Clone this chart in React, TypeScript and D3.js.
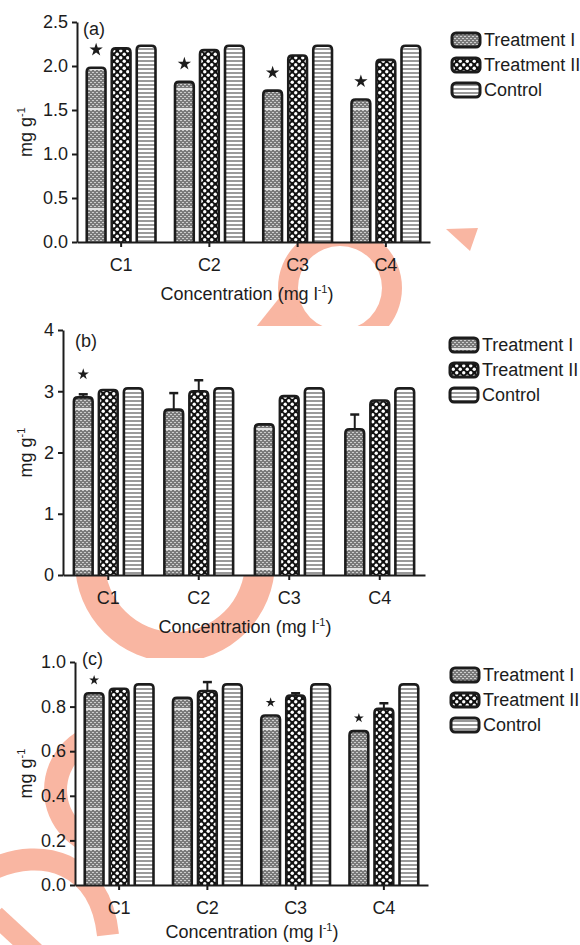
import React, { useEffect, useRef } from "react";
import * as d3 from "d3";

const categories = ["C1", "C2", "C3", "C4"];
const series = ["Treatment I", "Treatment II", "Control"];

// panel (a)
const aTreat1 = [1.98, 1.82, 1.72, 1.62];
const aTreat2 = [2.2, 2.18, 2.12, 2.07];
const aControl = [2.23, 2.23, 2.23, 2.23];
const aErr1 = [0, 0, 0, 0];
const aErr2 = [0, 0, 0, 0];
const aErrC = [0, 0, 0, 0];
const aStars = [true, true, true, true];
const aTicks = [0, 0.5, 1, 1.5, 2, 2.5];

// panel (b)
const bTreat1 = [2.9, 2.7, 2.46, 2.38];
const bTreat2 = [3.02, 3.0, 2.92, 2.85];
const bControl = [3.05, 3.05, 3.05, 3.05];
const bErr1 = [0.05, 0.27, 0, 0.24];
const bErr2 = [0, 0.18, 0, 0];
const bErrC = [0, 0, 0, 0];
const bStars = [true, false, false, false];
const bTicks = [0, 1, 2, 3, 4];

// panel (c)
const cTreat1 = [0.86, 0.84, 0.76, 0.69];
const cTreat2 = [0.88, 0.87, 0.85, 0.79];
const cControl = [0.9, 0.9, 0.9, 0.9];
const cErr1 = [0, 0, 0, 0];
const cErr2 = [0, 0.04, 0.01, 0.025];
const cErrC = [0, 0, 0, 0];
const cStars = [true, false, true, true];
const cTicks = [0, 0.2, 0.4, 0.6, 0.8, 1.0];

const FONT = "'Liberation Sans', Arial, sans-serif";
const INK = "#1c1c1c";
const WM = "#f9b6a2";

const panels = [
  {
    label: "(a)", values: [aTreat1, aTreat2, aControl], errors: [aErr1, aErr2, aErrC],
    stars: aStars, ticks: aTicks, fmt: ".1f", max: 2.5,
    left: 77, right: 430, top: 22, bottom: 242,
    legX: 452, legY: 40, starSize: 55, starGap: 18, labelX: 83, labelY: 35, titleX: 247, titleGap: 58,
  },
  {
    label: "(b)", values: [bTreat1, bTreat2, bControl], errors: [bErr1, bErr2, bErrC],
    stars: bStars, ticks: bTicks, fmt: "d", max: 4,
    left: 63, right: 425, top: 330, bottom: 575,
    legX: 450, legY: 345, starSize: 40, starGap: 20, labelX: 75, labelY: 347, titleX: 245, titleGap: 58,
  },
  {
    label: "(c)", values: [cTreat1, cTreat2, cControl], errors: [cErr1, cErr2, cErrC],
    stars: cStars, ticks: cTicks, fmt: ".1f", max: 1.0,
    left: 75, right: 428, top: 662, bottom: 885,
    legX: 451, legY: 675, starSize: 30, starGap: 13, labelX: 82, labelY: 665, titleX: 252, titleGap: 53,
  },
];

// bar outline with rounded top corners
const roundTop = (x, y, w, h, r) => {
  const rr = Math.min(r, h, w / 2);
  return `M${x},${y + h}V${y + rr}Q${x},${y} ${x + rr},${y}H${x + w - rr}Q${x + w},${y} ${x + w},${y + rr}V${y + h}`;
};

const App = () => {
  const svgRef = useRef<SVGSVGElement | null>(null);

  useEffect(() => {
    const svg = d3.select(svgRef.current);
    svg.selectAll("*").remove();

    // fill patterns
    const defs = svg.append("defs");
    const p0 = defs.append("pattern").attr("id", "pat0").attr("patternUnits", "userSpaceOnUse")
      .attr("width", 4).attr("height", 20);
    p0.append("rect").attr("width", 4).attr("height", 20).attr("fill", "#7a7a7a");
    for (let yy = 0; yy < 20; yy += 2) {
      p0.append("rect").attr("x", (yy / 2) % 2 === 0 ? 0 : 2).attr("y", yy)
        .attr("width", 2).attr("height", 1).attr("fill", "#cdcdcd");
    }
    p0.append("rect").attr("y", 8).attr("width", 4).attr("height", 2).attr("fill", "#e2e2e2");

    const p1 = defs.append("pattern").attr("id", "pat1").attr("patternUnits", "userSpaceOnUse")
      .attr("width", 7).attr("height", 7);
    p1.append("rect").attr("width", 7).attr("height", 7).attr("fill", "#111");
    p1.append("circle").attr("cx", 1.75).attr("cy", 1.75).attr("r", 1.7).attr("fill", "#fff");
    p1.append("circle").attr("cx", 5.25).attr("cy", 5.25).attr("r", 1.7).attr("fill", "#fff");

    const p2 = defs.append("pattern").attr("id", "pat2").attr("patternUnits", "userSpaceOnUse")
      .attr("width", 4).attr("height", 4);
    p2.append("rect").attr("width", 4).attr("height", 4).attr("fill", "#fff");
    p2.append("rect").attr("width", 4).attr("height", 2).attr("fill", "#9a9a9a");

    // watermark behind everything
    const wm = svg.append("g").attr("fill", WM);
    const ring = d3.arc();
    wm.append("path").attr("transform", "translate(340,288)")
      .attr("d", ring({ innerRadius: 42, outerRadius: 62, startAngle: 0, endAngle: 2 * Math.PI }));
    wm.append("path").attr("d", "M284,292L256,327L302,327Z");
    wm.append("path").attr("d", "M446,229L478,228L470,251Z");
    wm.append("path").attr("transform", "translate(175,562)")
      .attr("d", ring({ innerRadius: 70, outerRadius: 100, startAngle: 0, endAngle: 2 * Math.PI }));
    wm.append("path").attr("transform", "translate(112,790)")
      .attr("d", ring({ innerRadius: 45, outerRadius: 68, startAngle: 0, endAngle: 2 * Math.PI }));
    wm.append("path").attr("d", "M-5,868C40,848 100,860 108,935")
      .attr("fill", "none").attr("stroke", WM).attr("stroke-width", 22);
    wm.append("path").attr("d", "M-5,915L35,952")
      .attr("fill", "none").attr("stroke", WM).attr("stroke-width", 20);

    panels.forEach((p) => {
      const g = svg.append("g");
      const x = d3.scaleBand().domain(categories).range([p.left, p.right]);
      const xs = d3.scaleBand().domain(series).range([-37.5, 37.5])
        .paddingInner(0.25).paddingOuter(0.125);
      const y = d3.scaleLinear().domain([0, p.max]).range([p.bottom, p.top]);

      // opaque plot area hides the watermark
      g.append("rect").attr("x", p.left).attr("y", p.top - 4)
        .attr("width", p.right - p.left).attr("height", p.bottom - p.top + 4).attr("fill", "#fff");

      series.forEach((s, si) => {
        categories.forEach((c, ci) => {
          const v = p.values[si][ci];
          const e = p.errors[si][ci];
          const bx = x(c) + x.bandwidth() / 2 + xs(s);
          const bw = xs.bandwidth();
          const cx = bx + bw / 2;
          if (e > 0) {
            g.append("line").attr("x1", cx).attr("x2", cx).attr("y1", y(v)).attr("y2", y(v + e))
              .attr("stroke", INK).attr("stroke-width", 2);
            g.append("line").attr("x1", cx - 4.5).attr("x2", cx + 4.5).attr("y1", y(v + e)).attr("y2", y(v + e))
              .attr("stroke", INK).attr("stroke-width", 2.5);
          }
          g.append("path").attr("d", roundTop(bx, y(v), bw, y(0) - y(v), 4))
            .attr("fill", `url(#pat${si})`).attr("stroke", INK).attr("stroke-width", 2.6);
          if (si === 0 && p.stars[ci]) {
            g.append("path").attr("d", d3.symbol(d3.symbolStar, p.starSize)())
              .attr("transform", `translate(${cx},${y(v + e) - p.starGap})`).attr("fill", INK);
          }
        });
      });

      // axes
      const ay = g.append("g").attr("transform", `translate(${p.left},0)`)
        .call(d3.axisLeft(y).tickValues(p.ticks).tickFormat(d3.format(p.fmt)).tickSize(5).tickSizeOuter(0).tickPadding(4));
      const ax = g.append("g").attr("transform", `translate(0,${p.bottom})`)
        .call(d3.axisBottom(x).tickSize(5).tickSizeOuter(0).tickPadding(11));
      [ay, ax].forEach((a) => {
        a.select(".domain").attr("stroke", INK).attr("stroke-width", 2);
        a.selectAll(".tick line").attr("stroke", INK).attr("stroke-width", 2);
        a.selectAll("text").attr("font-family", FONT).attr("font-size", 18).attr("fill", INK);
      });

      // panel label
      g.append("text").attr("x", p.labelX).attr("y", p.labelY).attr("font-family", FONT)
        .attr("font-size", 18).attr("fill", INK).text(p.label);

      // axis titles
      const xt = g.append("text").attr("x", p.titleX).attr("y", p.bottom + p.titleGap)
        .attr("text-anchor", "middle").attr("font-family", FONT).attr("font-size", 18).attr("fill", INK);
      xt.append("tspan").text("Concentration (mg l");
      xt.append("tspan").attr("dy", -7).attr("font-size", 11).text("-1");
      xt.append("tspan").attr("dy", 7).text(")");

      const yt = g.append("text")
        .attr("transform", `translate(32,${(p.top + p.bottom) / 2}) rotate(-90)`)
        .attr("text-anchor", "middle").attr("font-family", FONT).attr("font-size", 18).attr("fill", INK);
      yt.append("tspan").text("mg g");
      yt.append("tspan").attr("dy", -7).attr("font-size", 11).text("-1");

      // legend
      series.forEach((s, si) => {
        const ly = p.legY + si * 25;
        g.append("rect").attr("x", p.legX).attr("y", ly - 7).attr("width", 28).attr("height", 14)
          .attr("rx", 4).attr("fill", `url(#pat${si})`).attr("stroke", INK).attr("stroke-width", 3);
        g.append("text").attr("x", p.legX + 32).attr("y", ly).attr("dy", "0.35em")
          .attr("font-family", FONT).attr("font-size", 18).attr("fill", INK).text(s);
      });
    });
  }, []);

  return (
    <svg
      ref={svgRef}
      width={580}
      height={945}
      style={{ position: "absolute", left: 0, top: 0, background: "#fff" }}
    ></svg>
  );
};

export default App;
